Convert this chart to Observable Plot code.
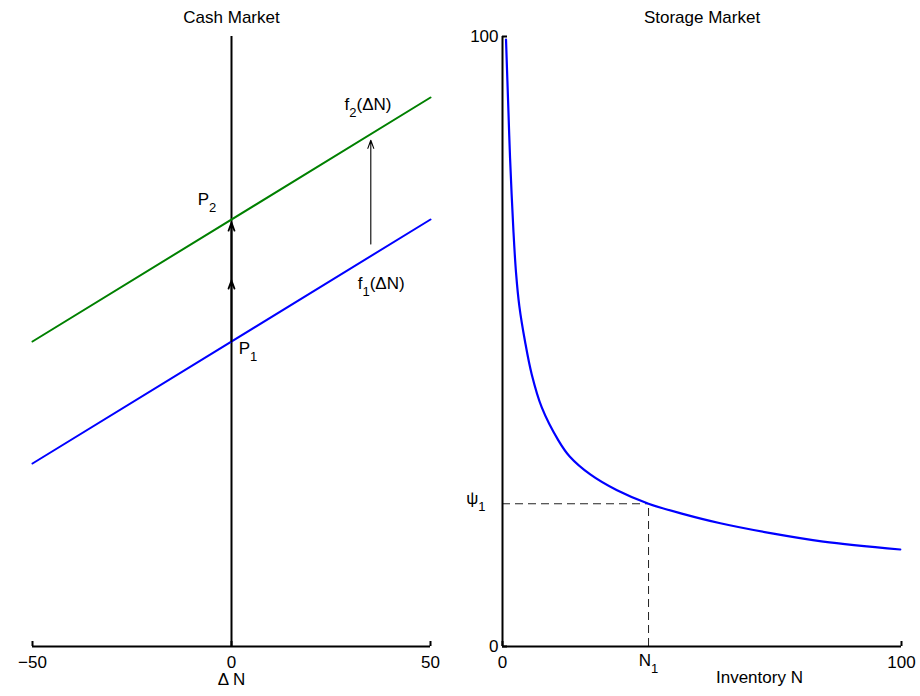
<!DOCTYPE html>
<html><head><meta charset="utf-8">
<script src="https://cdn.jsdelivr.net/npm/d3@7"></script>
<script src="https://cdn.jsdelivr.net/npm/@observablehq/plot@0.6"></script>
<style>
body{margin:0;background:#fff;}
#wrap{position:relative;width:920px;height:696px;display:flex;}
#wrap svg{display:block;}
</style></head><body><div id="wrap"></div>
<script>
// ---- Cash market data ----
const cashX = [-50, 50];
const f1 = [30, 70];
const f2 = [50, 90];
const cashTicks = [-50, 0, 50];
const arrowX = [0, 0, 35];
const arrowFrom = [50, 60, 66];
const arrowTo = [60, 69.5, 83];
const cashLabelText = ["P_2", "P_1", "f_2(ΔN)", "f_1(ΔN)"];
const cashLabelX = [-8.5, 1.8, 28.4, 31.7];
const cashLabelY = [73.3, 48.8, 88.8, 59.5];

// ---- Storage market data ----
const invN = [0.88, 1.5, 1.9, 2.75, 3.39, 4.22, 5.65, 7.33, 9.84, 14.0, 16.9, 22.0, 28.7, 36.6, 45.4, 54.6, 67.9, 80.4, 99.7];
const psi  = [99.5, 87.5, 80.0, 68.0, 61.3, 55.8, 50.0, 44.6, 39.2, 33.8, 31.1, 28.2, 25.6, 23.4, 21.7, 20.2, 18.5, 17.2, 15.9];
const storageTicks = [0, 100];
const N1 = 36.6;
const psi1 = 23.4;

const font = {fontFamily: "'Liberation Sans', Arial, sans-serif", fontSize: "17px", overflow: "visible", background: "#fff"};
const blue = "#0000ff", green = "#008000";

const left = Plot.plot({
  width: 460, height: 696,
  marginLeft: 32, marginRight: 30, marginTop: 36, marginBottom: 50,
  style: font,
  x: {domain: [-50, 50]},
  y: {domain: [0, 100], axis: null},
  marks: [
    Plot.ruleY([0], {strokeWidth: 2}),
    Plot.ruleX([0], {strokeWidth: 2}),
    Plot.axisX(cashTicks, {tickSize: 5, dy: -5, tickPadding: 9, strokeWidth: 2, label: null}),
    Plot.line(cashX, {x: d => d, y: (d, i) => f1[i], stroke: blue, strokeWidth: 2}),
    Plot.line(cashX, {x: d => d, y: (d, i) => f2[i], stroke: green, strokeWidth: 2}),
    Plot.arrow(arrowX, {x1: d => d, x2: d => d, y1: (d, i) => arrowFrom[i], y2: (d, i) => arrowTo[i], headLength: 13, headAngle: 40, strokeWidth: (d, i) => i < 2 ? 1.8 : 1.1}),
    Plot.text(cashLabelText, {x: (d, i) => cashLabelX[i], y: (d, i) => cashLabelY[i], text: d => d, textAnchor: "start", lineAnchor: "middle"}),
    Plot.text(["Cash Market"], {text: d => d, frameAnchor: "top", dy: -19, lineAnchor: "middle"}),
    Plot.text(["Δ N"], {text: d => d, frameAnchor: "bottom", dy: 33, lineAnchor: "middle"})
  ]
});

const right = Plot.plot({
  width: 460, height: 696,
  marginLeft: 42, marginRight: 19, marginTop: 36, marginBottom: 50,
  style: font,
  x: {domain: [0, 100]},
  y: {domain: [0, 100]},
  marks: [
    Plot.ruleY([psi1], {x1: 0, x2: N1, stroke: "#222", strokeWidth: 1, strokeDasharray: "8,5"}),
    Plot.ruleX([N1], {y1: 0, y2: psi1, stroke: "#222", strokeWidth: 1, strokeDasharray: "8,5"}),
    Plot.ruleX([0], {strokeWidth: 2}),
    Plot.ruleY([0], {strokeWidth: 2}),
    Plot.axisX(storageTicks, {tickSize: 5, dy: -5, tickPadding: 9, strokeWidth: 2, label: null}),
    Plot.axisY(storageTicks, {tickSize: 5, dx: 5, tickPadding: 4, strokeWidth: 2, label: null}),
    Plot.line(invN, {x: d => d, y: (d, i) => psi[i], stroke: blue, strokeWidth: 2.2, curve: "catmull-rom"}),
    Plot.text([psi1], {y: d => d, text: () => "ψ_1", frameAnchor: "left", dx: -17, dy: -5, textAnchor: "end", lineAnchor: "middle"}),
    Plot.text([N1], {x: d => d, text: () => "N_1", frameAnchor: "bottom", dy: 14, lineAnchor: "middle"}),
    Plot.text(["Inventory N"], {x: 64.4, text: d => d, frameAnchor: "bottom", dy: 31, lineAnchor: "middle"}),
    Plot.text(["Storage Market"], {text: d => d, frameAnchor: "top", dy: -19, lineAnchor: "middle"})
  ]
});

function subscripts(svg) {
  d3.select(svg).selectAll("text").each(function() {
    const el = this;
    if (el.querySelector("tspan")) return;
    const t = el.textContent;
    const m = t.match(/^(.*?)_(\d)(.*)$/);
    if (!m) return;
    el.textContent = "";
    const s = d3.select(el);
    s.append("tspan").text(m[1]);
    s.append("tspan").attr("dy", 7).style("font-size", "13px").text(m[2]);
    if (m[3]) s.append("tspan").attr("dy", -7).text(m[3]);
  });
}
subscripts(left);
subscripts(right);

document.getElementById("wrap").append(left, right);
</script>
</body></html>
